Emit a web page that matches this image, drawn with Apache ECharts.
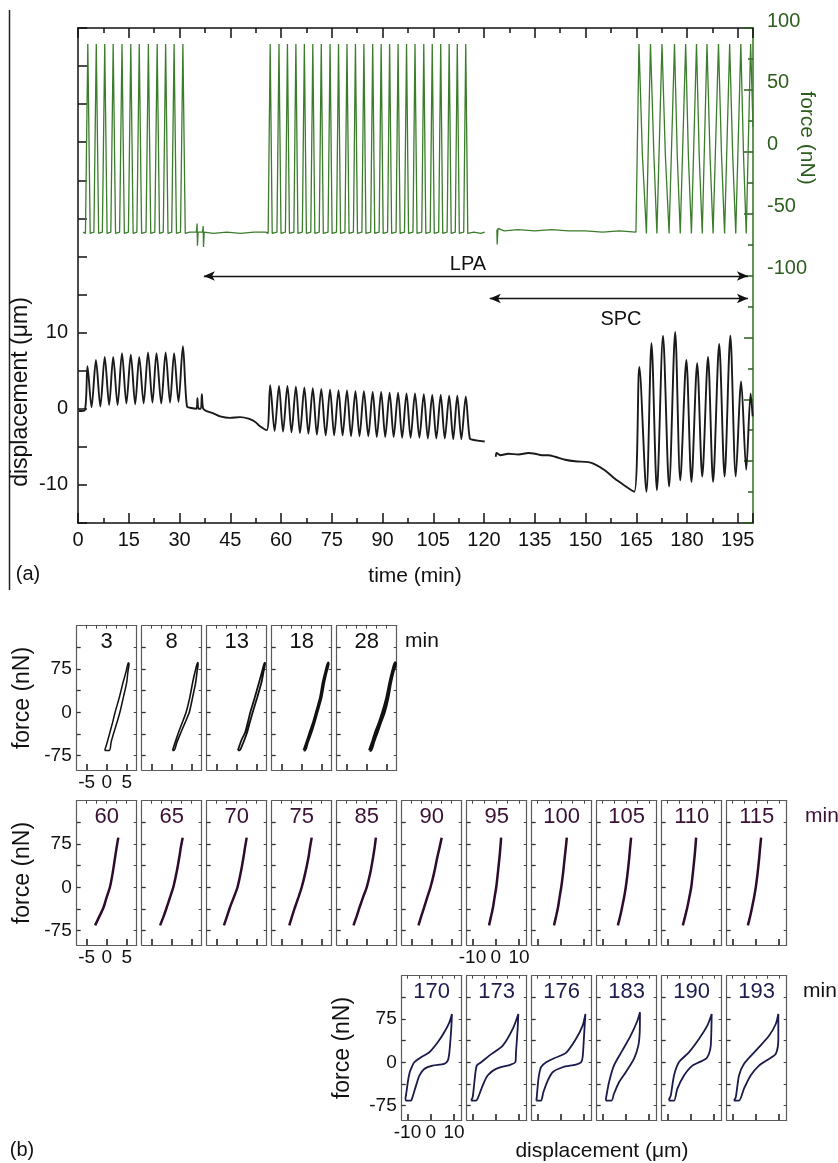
<!DOCTYPE html>
<html><head><meta charset="utf-8">
<script src="https://cdn.jsdelivr.net/npm/echarts@6/dist/echarts.min.js"></script>
<style>html,body{margin:0;padding:0;background:#fff}#c{width:838px;height:1163px}</style>
</head><body><div id="c"></div>
<script>
// ================= DATA =================
const timeTickLabels = [0,15,30,45,60,75,90,105,120,135,150,165,180,195];
const dispTickLabels = [-10,0,10];
const forceTickLabels = [-100,-50,0,50,100];

// force (nN) vs time (min)
const forceTrace = [
[1.5,-65],[2.2,-66],[2.9,87],[3.6,-66],[4.7,-65],[5.4,87],[6.1,-66],[7.2,-65],[7.9,87],[8.6,-66],[9.7,-65],[10.4,87],[11.1,-66],[12.3,-65],[13.0,87],[13.7,-66],[14.9,-65],[15.6,87],[16.3,-66],[17.4,-65],[18.1,87],[18.8,-66],[20.1,-65],[20.8,87],[21.5,-66],[22.7,-65],[23.4,87],[24.1,-66],[25.2,-65],[25.9,87],[26.6,-66],[27.7,-65],[28.4,87],[29.1,-66],[30.3,-65],[31.0,87],[31.7,-66],
[33.0,-65],[35.0,-65],[35.2,-58],[35.3,-76],[35.5,-65],[36.8,-65],[37.0,-60],[37.1,-77],[37.3,-65],[40.0,-66],[44.0,-65],[48.0,-66],[52.0,-65],[55.5,-65],
[56.2,-66],[56.8,87],[57.4,-66],[58.8,-65],[59.4,87],[60.0,-66],[61.3,-65],[61.9,87],[62.5,-66],[63.8,-65],[64.4,87],[65.0,-66],[66.3,-65],[66.9,87],[67.5,-66],[68.8,-65],[69.4,87],[70.0,-66],[71.3,-65],[71.9,87],[72.5,-66],[73.9,-65],[74.5,87],[75.1,-66],[76.4,-65],[77.0,87],[77.6,-66],[78.9,-65],[79.5,87],[80.1,-66],[81.4,-65],[82.0,87],[82.6,-66],[83.9,-65],[84.5,87],[85.1,-66],[86.5,-65],[87.1,87],[87.7,-66],[89.0,-65],[89.6,87],[90.2,-66],[91.5,-65],[92.1,87],[92.7,-66],[94.0,-65],[94.6,87],[95.2,-66],[96.5,-65],[97.1,87],[97.7,-66],[99.0,-65],[99.6,87],[100.2,-66],[101.6,-65],[102.2,87],[102.8,-66],[104.1,-65],[104.7,87],[105.3,-66],[106.6,-65],[107.2,87],[107.8,-66],[109.1,-65],[109.7,87],[110.3,-66],[111.5,-65],[112.1,87],[112.7,-66],[114.0,-65],[114.6,87],[115.2,-66],
[117.0,-65],[119.0,-66],[120.2,-65],[121.5,null],
[123.8,-63],[123.9,-75],[124.1,-62],[126.0,-64],[130.0,-63],[135.0,-64],[140.0,-63],[145.0,-64],[150.0,-64],[155.0,-65],[160.0,-64],[164.9,-65],
[165.8,87],[166.8,-2],[168.0,-66],[169.2,87],[170.2,-2],[171.1,-66],[172.6,87],[173.6,-3],[174.7,-66],[176.3,87],[177.1,-2],[178.0,-66],[179.6,87],[180.4,-3],[181.3,-66],[182.8,87],[183.6,-3],[184.5,-66],[185.9,87],[186.8,-3],[187.7,-66],[189.3,87],[190.2,-3],[191.1,-66],[192.6,87],[193.5,-3],[194.4,-66],[195.9,87],[196.7,-3],[197.5,-66],[198.8,87],[199.5,20]
];

// displacement (um) vs time (min)
const displacementTrace = [
[0.2,-0.3],[2.0,-0.2],[2.8,5.6],[4.0,0.2],[5.3,6.4],[6.6,0.3],[7.9,6.8],[9.2,0.5],[10.4,6.8],[11.7,0.5],[13.0,7.3],[14.3,0.7],[15.6,7.1],[16.9,0.6],[18.1,6.8],[19.4,0.7],[20.7,7.4],[22.0,0.8],[23.2,7.3],[24.6,0.7],[25.9,7.4],[27.2,0.8],[28.4,7.3],[29.7,0.9],[31.0,8.2],[32.2,0.3],[33.5,0.1],[35.0,0.0],[35.3,1.4],[35.6,0.0],[36.3,0.0],[36.6,1.9],[37.0,0.0],[38.0,-0.3],[40.0,-0.6],[42.0,-1.0],[44.9,-1.2],[47.9,-1.1],[50.4,-1.3],[52.3,-1.7],[53.8,-2.3],[55.8,-2.8],
[56.8,3.1],[58.1,-2.9],[59.4,3.0],[60.6,-3.0],[61.9,3.0],[63.1,-3.1],[64.4,2.9],[65.6,-3.2],[66.9,2.8],[68.1,-3.3],[69.4,2.7],[70.6,-3.4],[71.9,2.6],[73.2,-3.5],[74.5,2.5],[75.7,-3.5],[77.0,2.4],[78.2,-3.5],[79.5,2.4],[80.7,-3.6],[82.0,2.3],[83.2,-3.6],[84.5,2.3],[85.8,-3.6],[87.1,2.2],[88.3,-3.7],[89.6,2.2],[90.8,-3.7],[92.1,2.1],[93.3,-3.7],[94.6,2.1],[95.8,-3.8],[97.1,2.0],[98.3,-3.8],[99.6,2.0],[100.9,-3.8],[102.2,1.9],[103.4,-3.9],[104.7,1.8],[105.9,-3.9],[107.2,1.8],[108.4,-3.9],[109.7,1.7],[110.9,-4.0],[112.1,1.7],[113.3,-4.0],[114.6,1.6],[115.8,-3.9],[117.0,-4.1],[118.5,-4.2],[120.2,-4.3],[121.5,null],
[123.5,-6.3],[123.7,-5.8],[124.8,-6.1],[127.2,-5.9],[130.2,-6.0],[133.1,-5.8],[135.1,-5.9],[137.1,-6.1],[139.0,-6.1],[141.0,-6.3],[144.0,-6.7],[146.9,-6.9],[150.8,-7.0],[152.8,-7.3],[155.8,-8.1],[158.7,-9.2],[161.6,-10.1],[164.4,-10.9],
[165.9,5.5],[168.0,-10.9],[169.5,8.6],[171.1,-10.7],[172.9,9.6],[174.7,-10.2],[176.5,10.1],[178.0,-9.4],[179.8,6.4],[181.3,-9.6],[183.0,6.0],[184.5,-8.9],[186.2,6.8],[187.7,-9.6],[189.5,8.5],[191.1,-8.9],[192.8,9.6],[194.4,-8.9],[196.0,3.6],[197.5,-8.0],[198.8,2.0],[199.4,-1.0]
];

// arrows: [start time, end time, force level]
const lpaSpan = [37.2, 198.0, -100.4];
const spcSpan = [121.7, 198.0, -118.6];

// (b) loops: [displacement um, force nN]
const row1Minutes = [3, 8, 13, 18, 28];
const row1Loops = [
 [[-0.5,-66],[0.0,-55],[0.8,-35],[1.5,-17],[2.1,0],[3.2,27],[4.1,52],[4.9,72],[5.4,86],[5.6,84],[5.3,70],[5.0,52],[4.2,27],[3.3,0],[2.6,-17],[1.8,-35],[1.1,-52],[0.7,-66],[-0.5,-66]],
 [[0.2,-66],[1.2,-45],[1.7,-35],[2.7,-17],[3.6,0],[4.5,25],[5.25,52],[5.9,72],[6.5,86],[6.6,84],[6.3,68],[6.0,52],[5.2,25],[4.4,0],[3.4,-17],[2.3,-35],[1.3,-52],[0.6,-66],[0.2,-66]],
 [[0.3,-66],[1.2,-48],[2.1,-35],[2.8,-17],[3.4,0],[4.5,25],[5.6,52],[6.4,72],[7.0,86],[7.1,84],[6.7,70],[6.2,52],[5.1,25],[4.0,0],[3.3,-17],[2.6,-35],[1.5,-55],[0.7,-66],[0.3,-66]],
 [[0.5,-66],[1.3,-50],[2.0,-35],[2.9,-17],[3.6,0],[4.6,25],[5.3,52],[6.0,72],[6.6,86],[6.7,84],[6.2,70],[5.6,52],[4.9,25],[3.9,0],[3.2,-17],[2.4,-35],[1.5,-52],[0.8,-66],[0.5,-66]],
 [[0.7,-66],[1.5,-50],[2.2,-35],[3.2,-17],[4.0,0],[5.0,25],[5.8,52],[6.5,72],[7.1,86],[7.2,84],[6.6,70],[6.0,52],[5.3,25],[4.4,0],[3.5,-17],[2.6,-35],[1.8,-50],[1.0,-66],[0.7,-66]]
];
const row2Minutes = [60, 65, 70, 75, 85, 90, 95, 100, 105, 110, 115];
const row2Loops = [
 [[-2.9,-66],[-1.8,-50],[-0.8,-35],[0.0,-17],[0.8,0],[1.5,25],[2.1,52],[2.5,70],[2.9,86]],
 [[-2.9,-66],[-2.0,-50],[-1.25,-35],[-0.4,-17],[0.4,0],[1.2,25],[1.9,52],[2.3,70],[2.75,86]],
 [[-3.2,-66],[-2.4,-50],[-1.7,-35],[-0.7,-17],[0.2,0],[1.0,25],[1.7,52],[2.1,70],[2.5,86]],
 [[-3.1,-66],[-2.4,-50],[-1.7,-35],[-0.8,-17],[0.0,0],[0.9,25],[1.7,52],[2.1,70],[2.5,86]],
 [[-3.3,-66],[-2.5,-50],[-1.8,-35],[-0.9,-17],[0.0,0],[0.9,25],[1.6,52],[2.0,70],[2.3,86]],
 [[-3.3,-66],[-2.6,-50],[-1.9,-35],[-1.1,-17],[-0.3,0],[0.6,25],[1.4,52],[2.0,70],[2.5,86]],
 [[-2.9,-66],[-2.0,-50],[-1.2,-35],[-0.5,-17],[0.2,0],[0.9,25],[1.6,52],[2.0,70],[2.3,86]],
 [[-2.9,-66],[-2.0,-50],[-1.2,-35],[-0.5,-17],[0.2,0],[1.0,25],[1.7,52],[2.2,70],[2.6,86]],
 [[-3.4,-66],[-2.4,-50],[-1.6,-35],[-0.7,-17],[0.0,0],[0.8,25],[1.5,52],[1.9,70],[2.3,86]],
 [[-3.4,-66],[-2.4,-50],[-1.5,-35],[-0.6,-17],[0.2,0],[0.9,25],[1.6,52],[2.0,70],[2.3,86]],
 [[-3.4,-66],[-2.4,-50],[-1.6,-35],[-0.7,-17],[0.0,0],[0.8,25],[1.5,52],[1.9,70],[2.3,86]]
];
const row3Minutes = [170, 173, 176, 183, 190, 193];
const row3Loops = [
 [[-10.9,-63],[-10.4,-50],[-9.9,-35],[-9.2,-20],[-8.5,-11.5],[-7.1,0],[-4.2,8.7],[-0.6,17.3],[3.0,34.6],[5.8,51.9],[8.0,69.2],[9.1,83.7],[8.9,65],[8.7,51.9],[8.0,17.3],[7.3,2.9],[5.8,-2.9],[0.8,-5.8],[-2.8,-11.5],[-4.9,-23],[-6.3,-40],[-8.1,-63.4],[-8.5,-66.3],[-10.6,-66.3],[-10.9,-63]],
 [[-10.6,-66.3],[-9.9,-60],[-9.2,-34.6],[-8.2,-5.8],[-6.3,0],[-2.8,11.5],[3.0,28.8],[7.3,57.7],[9.7,83.7],[9.4,57.7],[8.7,17.3],[8.4,0],[6.5,-4],[0.1,-11.5],[-3.5,-23],[-5.6,-40],[-7.8,-63],[-8.5,-66.3],[-10.6,-66.3]],
 [[-10.6,-66.3],[-10.4,-63.4],[-9.6,-28.8],[-8.5,-8.6],[-6.3,0],[-2.8,7],[2.2,16.2],[6.5,40.4],[9.4,63.5],[10.6,83.7],[10.1,51.9],[9.4,8.7],[8.7,0],[6.5,-4],[0.8,-8.6],[-3.5,-17.2],[-5.6,-31.7],[-7.5,-51.9],[-8.5,-66.3],[-10.6,-66.3]],
 [[-8.6,-66.3],[-8.4,-60],[-7.2,-34.6],[-5.1,-5.8],[-1.5,20.2],[2.1,46.1],[5.0,72],[6.1,86.6],[6.0,51.9],[5.4,28.8],[3.5,5.8],[0.0,-17.3],[-2.9,-34.6],[-5.1,-54.8],[-6.1,-66.3],[-8.6,-66.3]],
 [[-9.4,-66.3],[-9.2,-63],[-8.6,-57.7],[-7.2,-23],[-5.1,0],[-0.8,17.3],[3.5,40.4],[7.1,63.5],[9.0,83.7],[8.6,28.8],[7.8,14.4],[6.4,5.8],[0.7,-5.8],[-2.9,-23],[-5.8,-46],[-7.2,-66.3],[-9.4,-66.3]],
 [[-9.4,-66.3],[-8.6,-60.5],[-7.2,-23],[-5.1,-2.9],[0.0,20.2],[5.7,46.1],[8.6,66.3],[9.7,83.7],[9.7,40.4],[8.6,14.4],[5.7,5.8],[1.4,-5.8],[-2.2,-23],[-5.1,-46],[-7.2,-66.3],[-9.4,-66.3]]
];
const loopForceLabels = [-75, 0, 75];
const loopForceTicks = [-75, -37.5, 0, 37.5, 75, 112.5];
const narrowDispLabels = [-5, 0, 5];
const wideDispLabels = [-10, 0, 10];

// ================= CHART =================
const FONT = '"Liberation Sans", Arial, Helvetica, sans-serif';
const BLACK = '#111';
const GREEN = '#3b7d2b';
const DKGREEN = '#2d5e1e';
const grid = [], xAxis = [], yAxis = [], series = [], graphic = [];

// ---- panel (a) ----
grid.push({left: 78, top: 28, width: 675, height: 495});
const tickStyle = {color: BLACK, width: 1.5};
function mainX(position, interval, len, main) {
  return {gridIndex: 0, type: 'value', position, min: 0, max: 199.5, interval,
    axisLine: {show: main, onZero: false, lineStyle: {color: BLACK, width: 1.5}},
    axisTick: {inside: true, length: len, lineStyle: tickStyle},
    axisLabel: {show: main && position === 'bottom', fontSize: 20, color: BLACK, margin: 7, fontFamily: FONT,
      formatter: v => timeTickLabels.includes(v) ? String(v) : ''},
    splitLine: {show: false}};
}
xAxis.push(mainX('bottom', 15, 10, true));
xAxis.push(mainX('bottom', 7.5, 5, false));
xAxis.push(mainX('top', 15, 10, true));
xAxis.push(mainX('top', 7.5, 5, false));
yAxis.push({gridIndex: 0, type: 'value', position: 'left', min: -15, max: 50, interval: 5,
  axisLine: {onZero: false, lineStyle: {color: BLACK, width: 1.5}},
  axisTick: {inside: true, length: 9, lineStyle: tickStyle},
  axisLabel: {fontSize: 20, color: BLACK, margin: 10, fontFamily: FONT,
    formatter: v => dispTickLabels.includes(v) ? String(v) : ''},
  splitLine: {show: false}});
yAxis.push({gridIndex: 0, type: 'value', position: 'right', min: -300, max: 100, interval: 50,
  axisLine: {onZero: false, lineStyle: {color: GREEN, width: 1.6}},
  axisTick: {inside: true, length: 9, lineStyle: {color: DKGREEN, width: 1.5}},
  minorTick: {show: true, splitNumber: 2, length: 5, lineStyle: {color: DKGREEN, width: 1.5}},
  axisLabel: {fontSize: 20, color: DKGREEN, margin: 14, fontFamily: FONT, verticalAlign: 'bottom', lineHeight: 14,
    formatter: v => forceTickLabels.includes(v) ? String(v) : ''},
  splitLine: {show: false}});

series.push({type: 'line', xAxisIndex: 0, yAxisIndex: 1, data: forceTrace, showSymbol: false,
  connectNulls: false, lineStyle: {color: GREEN, width: 1.3}, z: 2,
  markLine: {silent: true, symbol: ['arrow', 'arrow'], symbolSize: [7, 11],
    lineStyle: {color: BLACK, width: 1.3, type: 'solid'}, label: {show: false},
    data: [
      [{coord: [lpaSpan[0], lpaSpan[2]]}, {coord: [lpaSpan[1], lpaSpan[2]]}],
      [{coord: [spcSpan[0], spcSpan[2]]}, {coord: [spcSpan[1], spcSpan[2]]}]
    ]}});
series.push({type: 'line', xAxisIndex: 0, yAxisIndex: 0, data: displacementTrace, showSymbol: false,
  connectNulls: false, smooth: 0.3, lineStyle: {color: '#1a1a1a', width: 1.9}, z: 3});

function txt(x, y, text, size, fill, rot, weight) {
  graphic.push({type: 'text', x, y, rotation: rot || 0, silent: true,
    style: {text, fontSize: size, fontFamily: FONT, fill: fill || BLACK, fontWeight: weight || 'normal',
      align: 'center', verticalAlign: 'middle'}});
}
graphic.push({type: 'line', silent: true, shape: {x1: 9.5, y1: 10, x2: 9.5, y2: 590}, style: {stroke: '#222', lineWidth: 1.5}});
txt(415, 576, 'time (min)', 21);
txt(21, 392, 'displacement (\u03bcm)', 23, BLACK, Math.PI / 2);
txt(807, 138, 'force (nN)', 21, DKGREEN, -Math.PI / 2);
txt(28, 574, '(a)', 20);
txt(468, 264, 'LPA', 20);
txt(621, 319, 'SPC', 20);

// ---- panel (b) ----
const BOX_W = 60, BOX_H = 144.3;
const narrowRange = [-7.5, 7.5];
const wideRange = [-12.5, 13.3];
const boxLine = {color: '#5a5a5a', width: 1.2};
function addPanel(left, top, wide, loop, showX, showY, lineColor, lineWidth) {
  const gi = grid.length;
  grid.push({left, top, width: BOX_W, height: BOX_H});
  const range = wide ? wideRange : narrowRange;
  const lab = wide ? wideDispLabels : narrowDispLabels;
  const fine = wide ? [-10, -5, 0, 5, 10] : [-5, -2.5, 0, 2.5, 5];
  const xi = xAxis.length;
  xAxis.push({gridIndex: gi, type: 'value', position: 'bottom', min: range[0], max: range[1],
    axisLine: {onZero: false, lineStyle: boxLine},
    axisTick: {inside: true, length: 6, customValues: lab, lineStyle: {color: '#222', width: 1.6}},
    axisLabel: {show: showX, customValues: lab, fontSize: 19, color: BLACK, margin: 3, fontFamily: FONT},
    splitLine: {show: false}});
  xAxis.push({gridIndex: gi, type: 'value', position: 'top', min: range[0], max: range[1],
    axisLine: {onZero: false, lineStyle: boxLine},
    axisTick: {inside: true, length: 3, customValues: fine, lineStyle: {color: '#444', width: 1}},
    axisLabel: {show: false}, splitLine: {show: false}});
  const yi = yAxis.length;
  yAxis.push({gridIndex: gi, type: 'value', position: 'left', min: -100, max: 150,
    axisLine: {onZero: false, lineStyle: boxLine},
    axisTick: {inside: true, length: 4, customValues: loopForceTicks, lineStyle: {color: '#333', width: 1.3}},
    axisLabel: {show: showY, customValues: loopForceLabels, fontSize: 19, color: BLACK, margin: 5, fontFamily: FONT},
    splitLine: {show: false}});
  yAxis.push({gridIndex: gi, type: 'value', position: 'right', min: -100, max: 150,
    axisLine: {onZero: false, lineStyle: boxLine},
    axisTick: {inside: true, length: 3, customValues: loopForceTicks, lineStyle: {color: '#444', width: 1}},
    axisLabel: {show: false}, splitLine: {show: false}});
  series.push({type: 'line', xAxisIndex: xi, yAxisIndex: yi, data: loop, showSymbol: false,
    smooth: 0.25, lineStyle: {color: lineColor, width: lineWidth}, z: 3});
}
const rowTops = [625.7, 800.7, 975.7];
function colLeft(k) { return 76.7 + 65 * k; }

// row 1
row1Minutes.forEach((m, i) => {
  const L = colLeft(i);
  addPanel(L, rowTops[0], false, row1Loops[i], i === 0, i === 0, '#111', [1.5, 1.6, 1.8, 2.3, 2.9][i]);
  txt(L + BOX_W / 2, rowTops[0] + 16, String(m), 22, BLACK);
});
// row 2
const PURPLE = '#3a1034';
row2Minutes.forEach((m, i) => {
  const L = colLeft(i);
  addPanel(L, rowTops[1], i >= 6, row2Loops[i], i === 0 || i === 6, i === 0, '#2e0a2c', 2.5);
  txt(L + BOX_W / 2, rowTops[1] + 16, String(m), 22, PURPLE);
});
// row 3
const NAVY = '#1c1c4e';
row3Minutes.forEach((m, i) => {
  const L = colLeft(i + 5);
  addPanel(L, rowTops[2], true, row3Loops[i], i === 0, i === 0, '#1a1a4c', 1.8);
  txt(L + BOX_W / 2, rowTops[2] + 16, String(m), 22, NAVY);
});
graphic.push({type: 'text', x: 405, y: rowTops[0] + 16, silent: true, style: {text: 'min', fontSize: 21, fontFamily: FONT, fill: BLACK, align: 'left', verticalAlign: 'middle'}});
graphic.push({type: 'text', x: 805, y: rowTops[1] + 16, silent: true, style: {text: 'min', fontSize: 21, fontFamily: FONT, fill: PURPLE, align: 'left', verticalAlign: 'middle'}});
graphic.push({type: 'text', x: 803, y: rowTops[2] + 16, silent: true, style: {text: 'min', fontSize: 21, fontFamily: FONT, fill: BLACK, align: 'left', verticalAlign: 'middle'}});
txt(23, 698, 'force (nN)', 23, BLACK, Math.PI / 2);
txt(23, 873, 'force (nN)', 23, BLACK, Math.PI / 2);
txt(343, 1048, 'force (nN)', 23, BLACK, Math.PI / 2);
txt(602, 1151, 'displacement (\u03bcm)', 21);
txt(22, 1150, '(b)', 20);

const chart = echarts.init(document.getElementById('c'));
chart.setOption({
  animation: false,
  backgroundColor: '#fff',
  textStyle: {fontFamily: FONT},
  grid, xAxis, yAxis, series, graphic
});
</script></body></html>
